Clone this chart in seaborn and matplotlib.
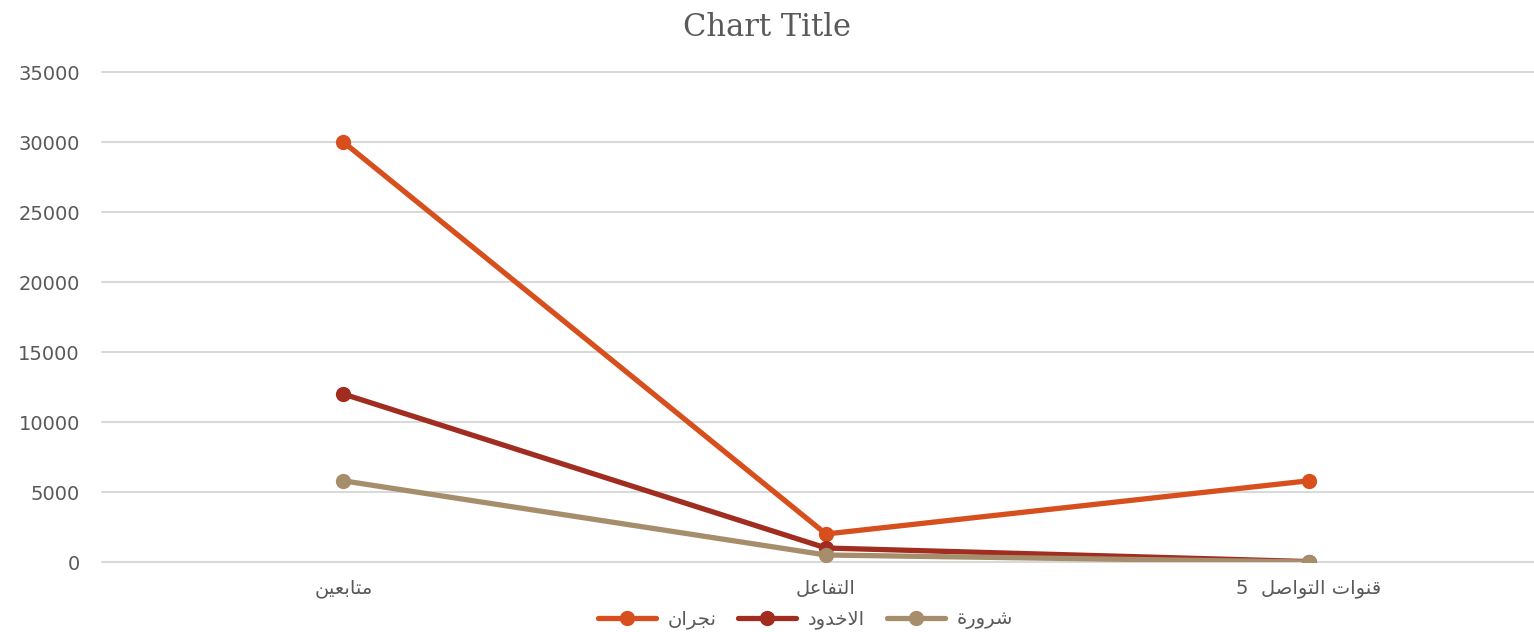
import pandas as pd
import numpy as np
import seaborn as sns
import matplotlib.pyplot as plt

# Data
categories = ['متابعين', 'التفاعل', 'قنوات التواصل  5']
series_names = ['نجران', 'الاخدود', 'شرورة']
najran = [30000, 2000, 5800]
ukhdood = [12000, 1000, 30]
sharura = [5800, 500, 0]
colors = ['#D84F1E', '#A02D20', '#A68E6C']

# matplotlib has no Arabic shaping, so map letters to presentation forms
# (isolated, final, initial, medial) and reverse for display
forms = {
    'ا': ('\uFE8D', '\uFE8E', None, None),
    'ب': ('\uFE8F', '\uFE90', '\uFE91', '\uFE92'),
    'ة': ('\uFE93', '\uFE94', None, None),
    'ت': ('\uFE95', '\uFE96', '\uFE97', '\uFE98'),
    'ج': ('\uFE9D', '\uFE9E', '\uFE9F', '\uFEA0'),
    'خ': ('\uFEA5', '\uFEA6', '\uFEA7', '\uFEA8'),
    'د': ('\uFEA9', '\uFEAA', None, None),
    'ر': ('\uFEAD', '\uFEAE', None, None),
    'ش': ('\uFEB5', '\uFEB6', '\uFEB7', '\uFEB8'),
    'ص': ('\uFEB9', '\uFEBA', '\uFEBB', '\uFEBC'),
    'ع': ('\uFEC9', '\uFECA', '\uFECB', '\uFECC'),
    'ف': ('\uFED1', '\uFED2', '\uFED3', '\uFED4'),
    'ق': ('\uFED5', '\uFED6', '\uFED7', '\uFED8'),
    'ل': ('\uFEDD', '\uFEDE', '\uFEDF', '\uFEE0'),
    'م': ('\uFEE1', '\uFEE2', '\uFEE3', '\uFEE4'),
    'ن': ('\uFEE5', '\uFEE6', '\uFEE7', '\uFEE8'),
    'و': ('\uFEED', '\uFEEE', None, None),
    'ي': ('\uFEF1', '\uFEF2', '\uFEF3', '\uFEF4'),
}


def joins_left(c):
    return c in forms and forms[c][2] is not None


def shape(text):
    out = []
    i = 0
    while i < len(text):
        c = text[i]
        prev = text[i-1] if i > 0 else ''
        nxt = text[i+1] if i+1 < len(text) else ''
        if c not in forms:
            out.append(c)
            i += 1
            continue
        p = joins_left(prev)
        if c == 'ل' and nxt == 'ا':
            out.append('\uFEFC' if p else '\uFEFB')
            i += 2
            continue
        n = joins_left(c) and nxt in forms
        if p and n:
            out.append(forms[c][3])
        elif p:
            out.append(forms[c][1])
        elif n:
            out.append(forms[c][2])
        else:
            out.append(forms[c][0])
        i += 1
    return ''.join(out)[::-1]


cats = [shape(c) for c in categories]
names = [shape(n) for n in series_names]

df = pd.DataFrame({
    'cat': cats*3,
    'value': najran + ukhdood + sharura,
    'series': [names[0]]*3 + [names[1]]*3 + [names[2]]*3,
})

# Plotting
sns.set_theme(style='white')
plt.rcParams['font.family'] = ['DejaVu Sans']

fig = plt.figure(figsize=(15.34, 6.32), dpi=100)
ax = fig.add_axes([102/1534, 70/632, 1448/1534, 490/632])

sns.lineplot(data=df, x='cat', y='value', hue='series', palette=colors,
             marker='o', markersize=11, markeredgewidth=0, linewidth=3.8,
             ax=ax, legend=True)

ax.set_xlim(-0.5, 2.5)
ax.set_ylim(0, 35000)
ax.set_yticks(np.arange(0, 35001, 5000))
ax.grid(axis='y', color='#D9D9D9', linewidth=1.5)
ax.set_axisbelow(True)
for gl in ax.get_ygridlines():
    gl.set_clip_on(False)
for s in ax.spines.values():
    s.set_visible(False)
ax.set_xlabel('')
ax.set_ylabel('')
ax.tick_params(axis='y', length=0, pad=16, labelsize=14, labelcolor='#595959')
ax.tick_params(axis='x', length=0, pad=12, labelsize=14, labelcolor='#595959')

handles, labels = ax.get_legend_handles_labels()
ax.get_legend().remove()
fig.legend(handles, labels, loc='center', bbox_to_anchor=(0.525, 0.02),
           ncol=3, frameon=False, fontsize=14, labelcolor='#595959',
           handlelength=3.0, handletextpad=0.6, columnspacing=1.1)

fig.text(0.5, 1 - 27/632, 'Chart Title', ha='center', va='center',
         fontsize=22, color='#595959', family='DejaVu Serif')

plt.savefig('out.png', dpi=100)
